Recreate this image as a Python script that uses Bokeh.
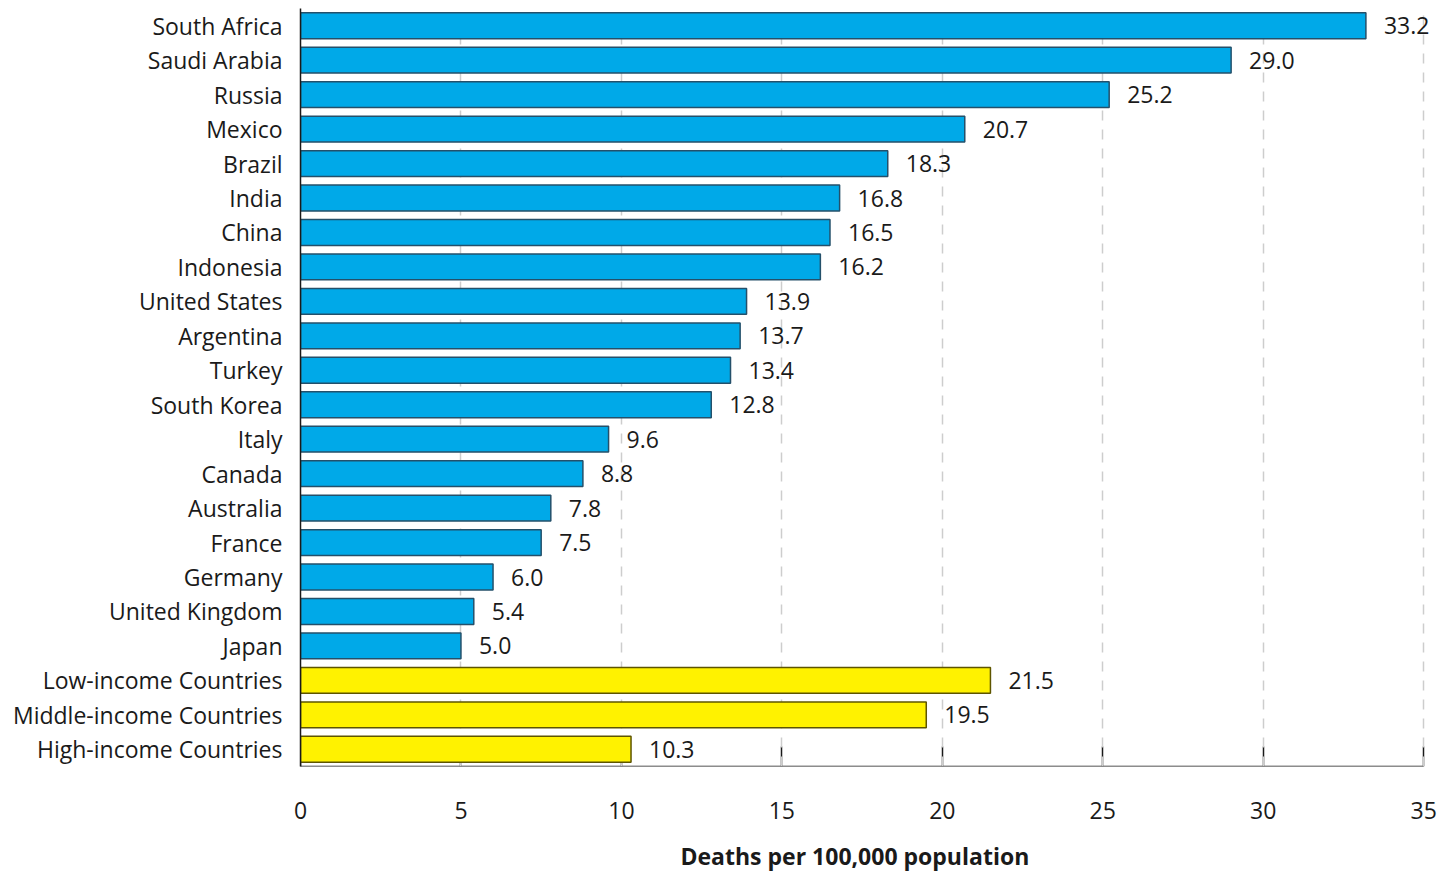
from bokeh.plotting import figure
from bokeh.models import ColumnDataSource, FactorRange, Range1d, FixedTicker, LabelSet, LinearAxis, Title
from bokeh.core.properties import value
from bokeh.embed import file_html
from bokeh.resources import INLINE

# ---- data (top to bottom as in the chart) ----
categories = [
    "South Africa", "Saudi Arabia", "Russia", "Mexico", "Brazil", "India",
    "China", "Indonesia", "United States", "Argentina", "Turkey", "South Korea",
    "Italy", "Canada", "Australia", "France", "Germany", "United Kingdom", "Japan",
    "Low-income Countries", "Middle-income Countries", "High-income Countries",
]
values = [
    33.2, 29.0, 25.2, 20.7, 18.3, 16.8,
    16.5, 16.2, 13.9, 13.7, 13.4, 12.8,
    9.6, 8.8, 7.8, 7.5, 6.0, 5.4, 5.0,
    21.5, 19.5, 10.3,
]
groups = ["country"] * 19 + ["income"] * 3
x_ticks = [0, 5, 10, 15, 20, 25, 30, 35]
x_title = "Deaths per 100,000 population"

FILL = {"country": "#00A9E8", "income": "#FFF200"}
EDGE = {"country": "#24506A", "income": "#5E5500"}
FONT = "Open Sans"
FS = "23px"
INK = "#1a1a1a"

src = ColumnDataSource(dict(
    cat=categories,
    val=values,
    fill=[FILL[g] for g in groups],
    edge=[EDGE[g] for g in groups],
    lbl=[f"{v:.1f}" for v in values],
))

p = figure(
    width=1441, height=882,
    x_range=Range1d(0, 35.4),
    y_range=FactorRange(factors=list(reversed(categories)), range_padding=0),
    output_backend="svg", toolbar_location=None,
    x_axis_location=None,
    min_border_left=300, min_border_right=5, min_border_top=8, min_border_bottom=116,
)
p.outline_line_color = None
p.background_fill_color = "white"

p.hbar(y="cat", right="val", left=0, height=0.75, source=src,
       fill_color="fill", line_color="edge", line_width=1.5)

labels = LabelSet(x="val", y="cat", text="lbl", source=src, x_offset=18,
                  text_baseline="middle", text_align="left",
                  text_font=value(FONT), text_font_size=FS, text_color=INK)
p.add_layout(labels)

# x axis: ticks + line drawn beneath the bars
tick_axis = LinearAxis(ticker=FixedTicker(ticks=x_ticks), level="underlay", bounds=(0, 35))
tick_axis.minor_tick_line_color = None
tick_axis.major_tick_in = 20
tick_axis.major_tick_out = 0
tick_axis.major_tick_line_width = 1.5
tick_axis.major_tick_line_color = INK
tick_axis.axis_line_width = 1.5
tick_axis.axis_line_color = INK
tick_axis.major_label_text_font_size = "1px"
tick_axis.major_label_text_color = None
tick_axis.major_label_standoff = 0
p.add_layout(tick_axis, "below")

# x axis: tick labels
lab_axis = LinearAxis(ticker=FixedTicker(ticks=x_ticks), bounds=(0, 35))
lab_axis.axis_line_color = None
lab_axis.major_tick_line_color = None
lab_axis.minor_tick_line_color = None
lab_axis.major_tick_in = 0
lab_axis.major_tick_out = 0
lab_axis.major_label_standoff = 35
lab_axis.major_label_text_font = FONT
lab_axis.major_label_text_font_size = FS
lab_axis.major_label_text_color = INK
p.add_layout(lab_axis, "below")

# x axis title
xt = Title(text=x_title, align="left", offset=380, standoff=0,
           padding=dict(top=16, bottom=0, left=0, right=0),
           text_font=FONT, text_font_style="bold", text_font_size=FS, text_color=INK)
p.add_layout(xt, "below")

# y axis
p.yaxis.major_tick_line_color = None
p.yaxis.minor_tick_line_color = None
p.yaxis.axis_line_width = 1.5
p.yaxis.axis_line_color = INK
p.yaxis.major_label_standoff = 12
p.yaxis.major_label_text_font = FONT
p.yaxis.major_label_text_font_size = FS
p.yaxis.major_label_text_color = INK

# grid
p.xgrid.ticker = FixedTicker(ticks=x_ticks[1:])
p.xgrid.grid_line_color = "#cdcdcd"
p.xgrid.grid_line_width = 1.5
p.xgrid.grid_line_dash = "10 9"
p.ygrid.grid_line_color = None

open("out.html", "w").write(file_html(p, INLINE))
